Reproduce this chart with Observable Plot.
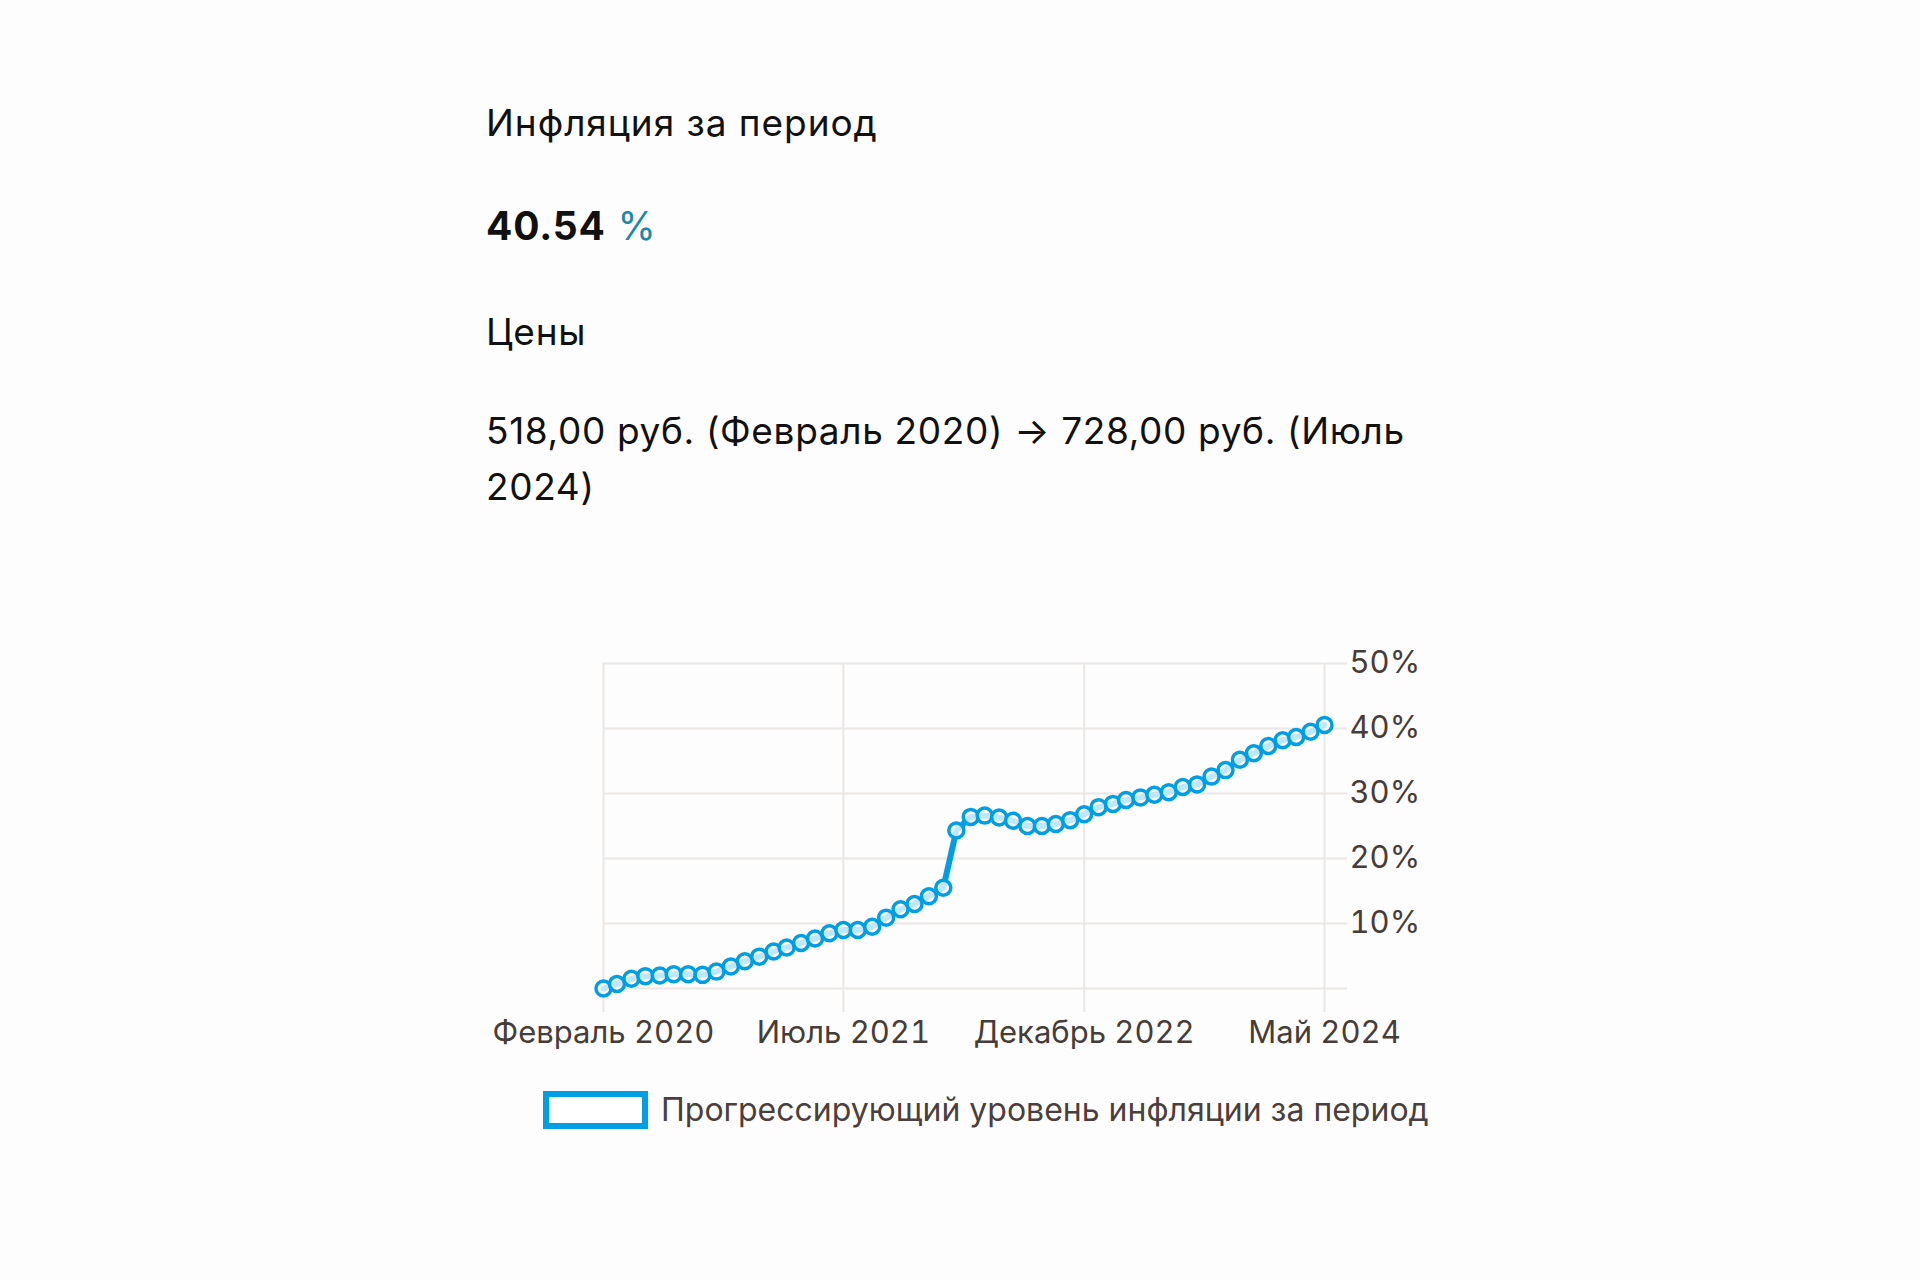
<!DOCTYPE html>
<html>
<head>
<meta charset="utf-8">
<script src="https://cdn.jsdelivr.net/npm/d3@7"></script>
<script src="https://cdn.jsdelivr.net/npm/@observablehq/plot@0.6"></script>
<style>
  html, body { margin: 0; padding: 0; background: #fdfdfd; }
  body { width: 1920px; height: 1280px; position: relative; overflow: hidden; font-family: Inter, "Noto Sans", sans-serif; }
  .t { position: absolute; left: 486px; white-space: nowrap; color: #111; line-height: 1; }
  #chart { position: absolute; left: 0; top: 600px; }
  #legend-box { position: absolute; left: 543px; top: 1091px; width: 93px; height: 26px; border: 6px solid #009ee2; background: #fff; }
  #legend-text { position: absolute; left: 661px; top: 1094px; font-size: 32px; line-height: 1; color: #4a3f3c; white-space: nowrap; }
</style>
</head>
<body>
<div class="t" id="title" style="top:104px;font-size:37px;letter-spacing:0.95px;">Инфляция за период</div>
<div class="t" id="total" style="top:206px;font-size:39px;letter-spacing:0.8px;"><b id="totalValue"></b> <span style="color:#1b8aa6;">%</span></div>
<div class="t" id="pricesLabel" style="top:313px;font-size:37px;letter-spacing:0.7px;">Цены</div>
<div class="t" id="prices1" style="top:412px;font-size:37px;letter-spacing:0.65px;"></div>
<div class="t" id="prices2" style="top:468px;font-size:37px;letter-spacing:0.65px;"></div>
<div id="chart"></div>
<div id="legend-box"></div>
<div id="legend-text"></div>
<script>
// ---- data ----
const startYear = 2020;
const startMonth = 1; // February (0-based)
const inflation = [
  0, 0.7, 1.5, 1.9, 2.0, 2.2, 2.2, 2.1, 2.6, 3.4,
  4.2, 4.9, 5.7, 6.3, 7.0, 7.7, 8.5, 9.0, 9.0, 9.5,
  10.9, 12.2, 13.0, 14.2, 15.5, 24.3, 26.4, 26.6, 26.3, 25.8,
  25.0, 25.0, 25.3, 25.9, 26.8, 27.9, 28.4, 29.0, 29.4, 29.8,
  30.2, 31.0, 31.4, 32.6, 33.6, 35.2, 36.2, 37.3, 38.2, 38.7,
  39.5, 40.54
];
const xTickIndices = [0, 17, 34, 51];
const xTickLabels = ["Февраль 2020", "Июль 2021", "Декабрь 2022", "Май 2024"];
const yTicks = [10, 20, 30, 40, 50];
const yGrid = [0, 10, 20, 30, 40, 50];
const titleText = "Инфляция за период";
const totalText = "40.54";
const pricesLine1 = "518,00 руб. (Февраль 2020) → 728,00 руб. (Июль";
const pricesLine2 = "2024)";
const legendLabel = "Прогрессирующий уровень инфляции за период";

document.getElementById("title").textContent = titleText;
document.getElementById("totalValue").textContent = totalText;
document.getElementById("prices1").textContent = pricesLine1;
document.getElementById("prices2").textContent = pricesLine2;
document.getElementById("legend-text").textContent = legendLabel;

const monthDate = i => new Date(Date.UTC(startYear, startMonth + i, 1));
const data = inflation.map((v, i) => ({date: monthDate(i), value: v}));
const xTicks = xTickIndices.map(monthDate);
const labelFor = new Map(xTicks.map((d, i) => [+d, xTickLabels[i]]));

const blue = "#009ee2";
const grid = "#ebe7e4";
const textColor = "#463c38";

const W = 1920, H = 480;
const chart = Plot.plot({
  width: W,
  height: H,
  marginLeft: 603,
  marginRight: W - 1324,
  marginTop: 63,
  marginBottom: H - 388,
  style: {background: "transparent", fontFamily: "Inter, 'Noto Sans', sans-serif", overflow: "visible"},
  x: {type: "utc", domain: [xTicks[0], xTicks[xTicks.length - 1]]},
  y: {domain: [0, 50]},
  marks: [
    Plot.gridX(xTicks, {stroke: grid, strokeOpacity: 1, strokeWidth: 2}),
    Plot.gridY(yGrid, {stroke: grid, strokeOpacity: 1, strokeWidth: 2}),
    Plot.axisX({ticks: xTicks, tickSize: 24, tickPadding: 8, stroke: grid, strokeWidth: 2, strokeOpacity: 1,
      tickFormat: d => labelFor.get(+d), fontSize: 31, fill: textColor, label: null}),
    Plot.axisY({anchor: "right", ticks: yGrid, tickSize: 22, stroke: grid, strokeWidth: 2, strokeOpacity: 1, tickFormat: () => "", label: null}),
    Plot.axisY({anchor: "right", ticks: yTicks, tickSize: 0, tickPadding: 25, tickFormat: d => d + "%", fontSize: 31, fill: textColor, label: null}),
    Plot.line(data, {x: "date", y: "value", stroke: blue, strokeWidth: 6, strokeLinejoin: "round", strokeLinecap: "round"}),
    Plot.dot(data, {x: "date", y: "value", r: 7.5, stroke: blue, strokeWidth: 3.5, fill: "#ffffff", fillOpacity: 0.75})
  ]
});
document.getElementById("chart").appendChild(chart);
</script>
</body>
</html>
